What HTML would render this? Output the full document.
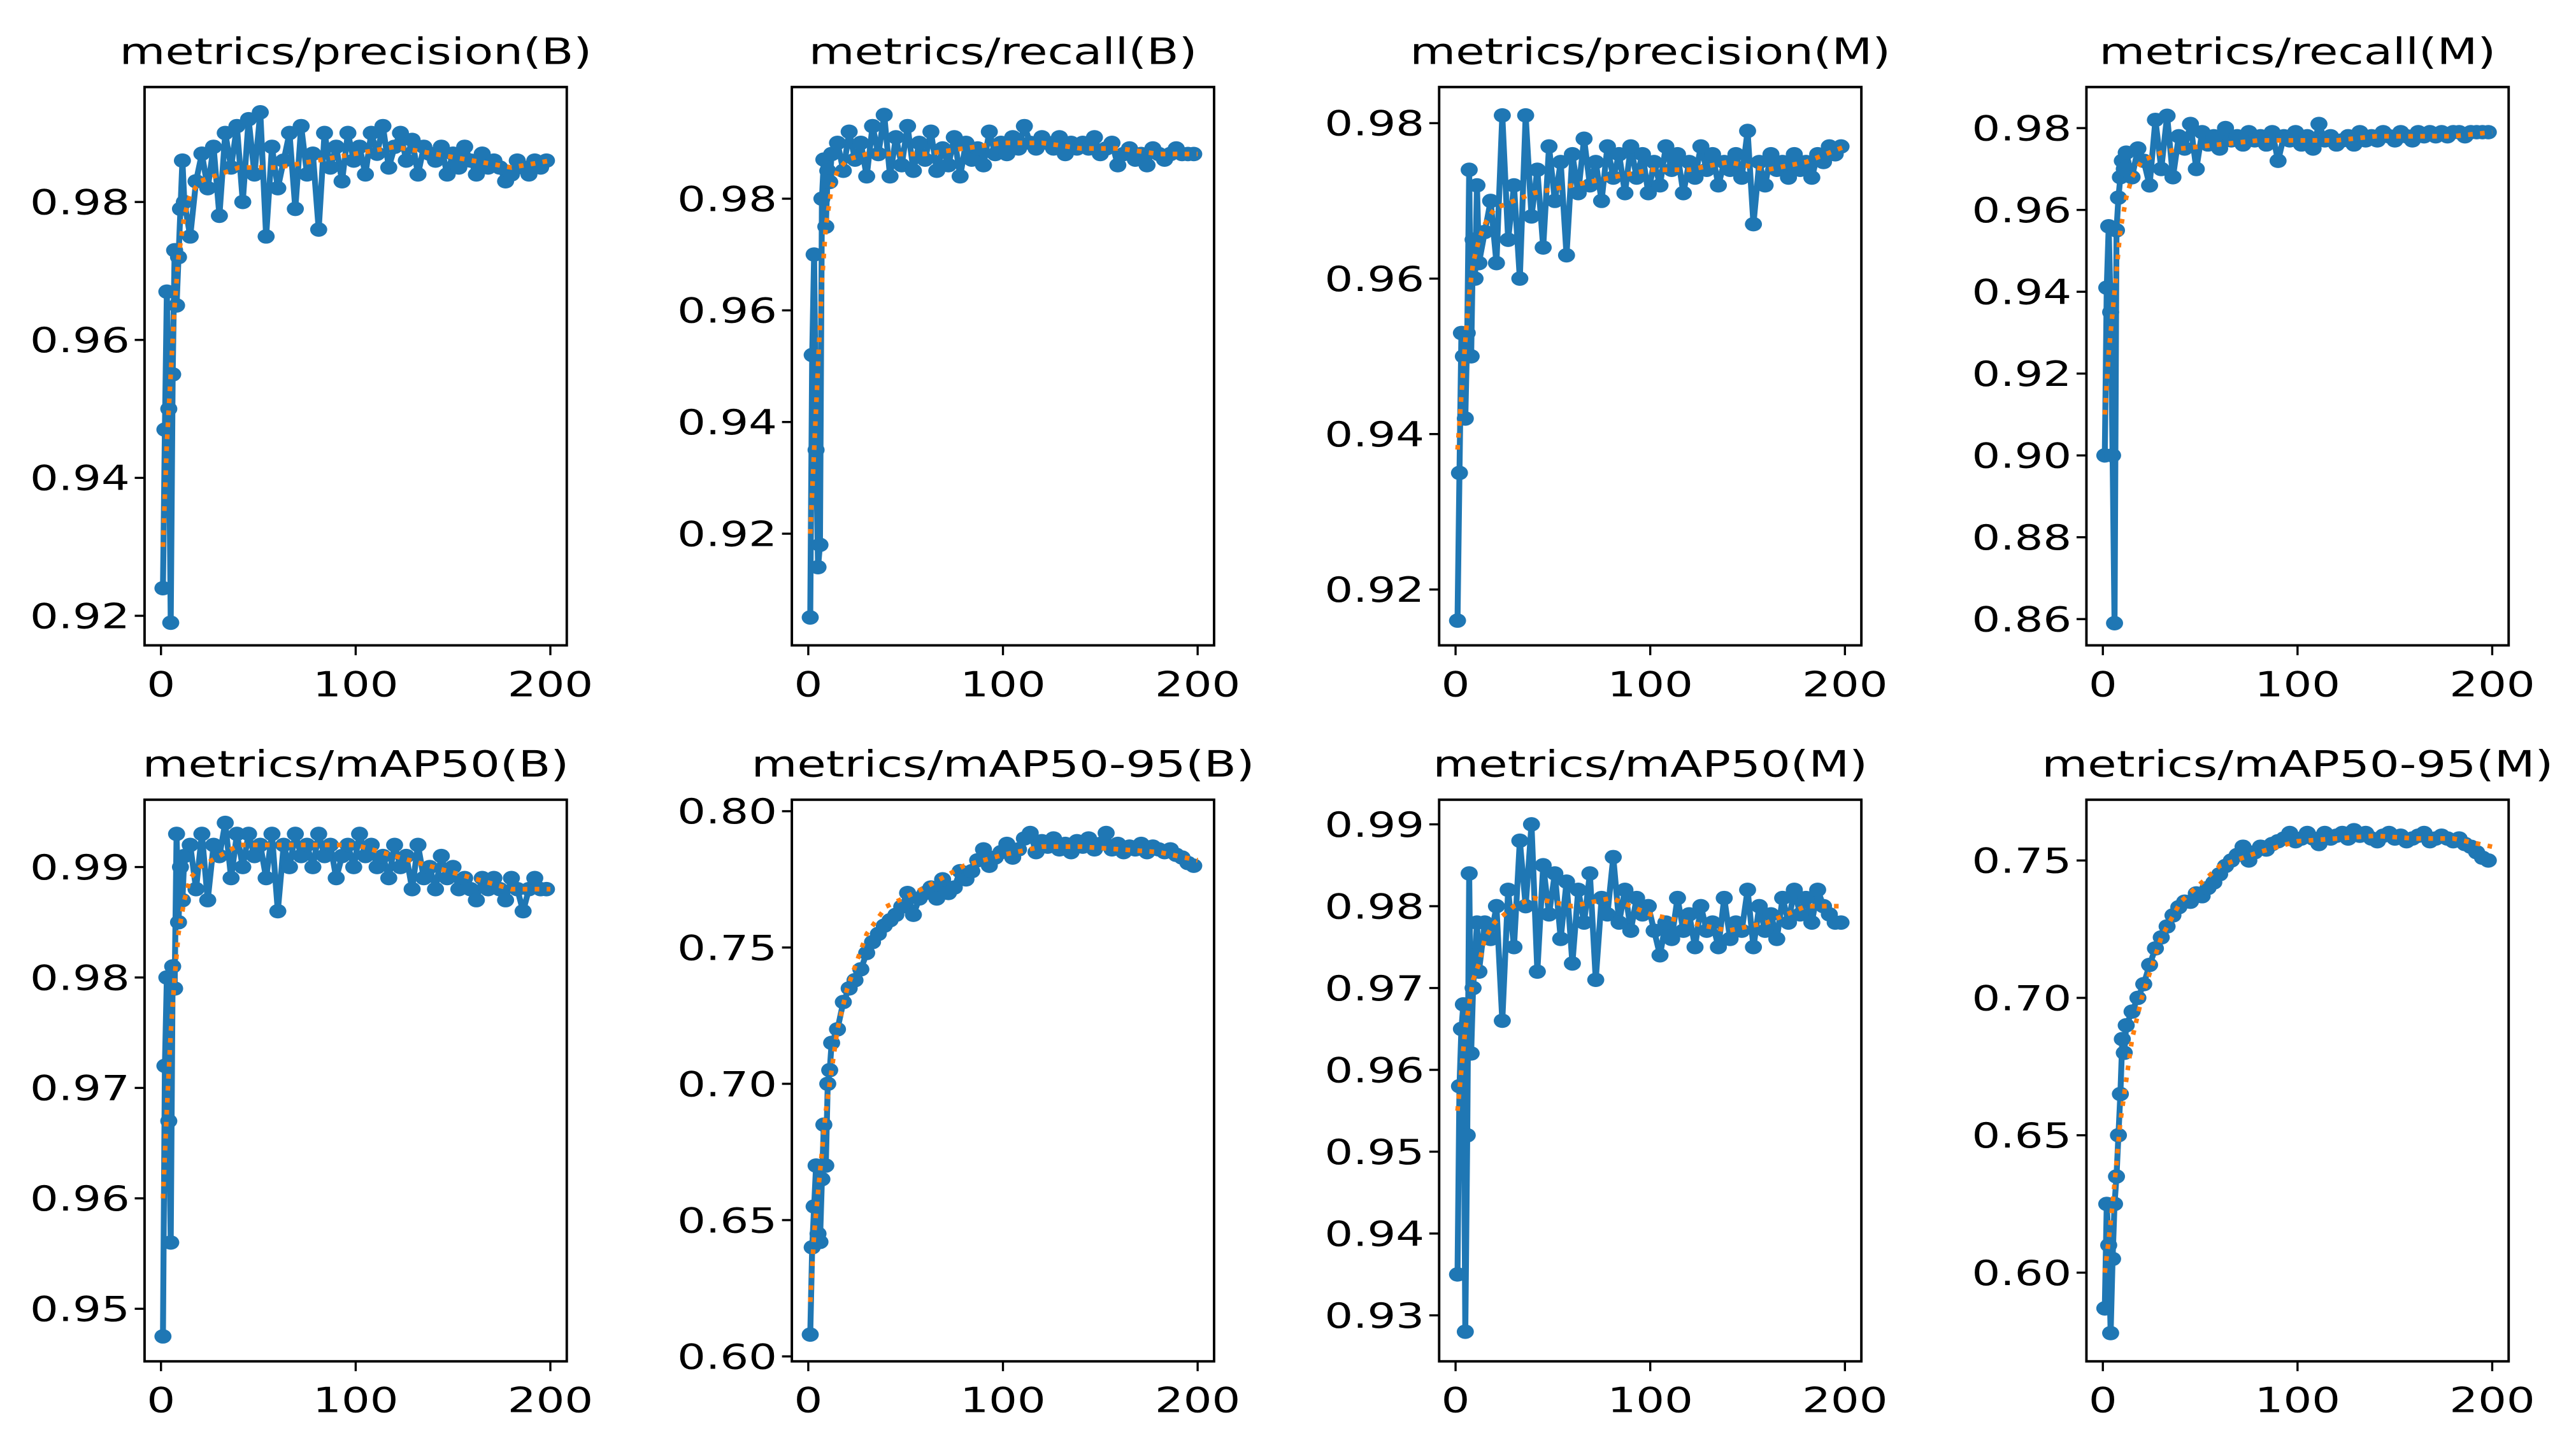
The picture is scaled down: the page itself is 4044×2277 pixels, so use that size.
<!DOCTYPE html>
<html><head><meta charset="utf-8">
<style>
html,body{margin:0;padding:0;background:#fff;}
svg{display:block;}
text{font-family:"DejaVu Sans","Liberation Sans",sans-serif;fill:#000;}
</style></head>
<body>
<svg id="chart" width="4044" height="2277" viewBox="0 0 1568 883" preserveAspectRatio="none" xmlns="http://www.w3.org/2000/svg">
<rect width="1568" height="883" fill="#fff"/>
</svg>
<script>
const epochs=[1,2,3,4,5,6,7,8,9,10,11,12,15,18,21,24,27,30,33,36,39,42,45,48,51,54,57,60,63,66,69,72,75,78,81,84,87,90,93,96,99,102,105,108,111,114,117,120,123,126,129,132,135,138,141,144,147,150,153,156,159,162,165,168,171,174,177,180,183,186,189,192,195,198];
const smoothEpochs=[1,3,5,7,9,12,15,20,30,40,60,80,100,120,140,160,180,200];
const titles=["metrics/precision(B)","metrics/recall(B)","metrics/precision(M)","metrics/recall(M)","metrics/mAP50(B)","metrics/mAP50-95(B)","metrics/mAP50(M)","metrics/mAP50-95(M)"];
const xTicks=[0,100,200];
const yTicks0=[0.92,0.94,0.96,0.98];
const yTicks1=[0.92,0.94,0.96,0.98];
const yTicks2=[0.92,0.94,0.96,0.98];
const yTicks3=[0.86,0.88,0.90,0.92,0.94,0.96,0.98];
const yTicks4=[0.95,0.96,0.97,0.98,0.99];
const yTicks5=[0.60,0.65,0.70,0.75,0.80];
const yTicks6=[0.93,0.94,0.95,0.96,0.97,0.98,0.99];
const yTicks7=[0.60,0.65,0.70,0.75];
const vals0=[.924,.947,.967,.950,.919,.955,.973,.965,.972,.979,.986,.980,.975,.983,.987,.982,.988,.978,.990,.985,.991,.980,.992,.984,.993,.975,.988,.982,.986,.990,.979,.991,.984,.987,.976,.990,.985,.988,.983,.990,.986,.988,.984,.990,.987,.991,.985,.988,.990,.986,.989,.984,.988,.987,.986,.988,.984,.987,.985,.988,.986,.984,.987,.985,.986,.985,.983,.984,.986,.985,.984,.986,.985,.986];
const vals1=[.905,.952,.970,.935,.914,.918,.980,.987,.975,.985,.983,.988,.990,.985,.992,.987,.990,.984,.993,.988,.995,.984,.991,.986,.993,.985,.990,.987,.992,.985,.989,.986,.991,.984,.990,.987,.989,.986,.992,.988,.990,.988,.991,.989,.993,.990,.989,.991,.990,.989,.991,.988,.990,.989,.990,.989,.991,.988,.989,.990,.986,.988,.989,.987,.988,.986,.989,.988,.987,.988,.989,.988,.988,.988];
const vals2=[.916,.935,.953,.950,.942,.953,.974,.950,.965,.960,.972,.962,.966,.970,.962,.981,.965,.972,.960,.981,.968,.974,.964,.977,.970,.975,.963,.976,.971,.978,.972,.975,.970,.977,.973,.976,.971,.977,.973,.976,.971,.975,.972,.977,.974,.976,.971,.975,.973,.977,.974,.976,.972,.975,.974,.976,.973,.979,.967,.975,.972,.976,.974,.975,.973,.976,.974,.975,.973,.976,.975,.977,.976,.977];
const vals3=[.900,.941,.956,.935,.900,.859,.955,.963,.968,.972,.970,.974,.968,.975,.972,.966,.982,.970,.983,.968,.978,.975,.981,.970,.979,.976,.978,.975,.980,.977,.978,.976,.979,.977,.978,.976,.979,.972,.978,.977,.979,.976,.978,.975,.981,.977,.978,.976,.977,.978,.976,.979,.977,.978,.977,.979,.978,.977,.979,.978,.977,.979,.978,.979,.978,.979,.978,.979,.979,.978,.979,.979,.979,.979];
const vals4=[.9475,.972,.980,.967,.956,.981,.979,.993,.985,.990,.987,.991,.992,.988,.993,.987,.992,.991,.994,.989,.993,.990,.993,.991,.992,.989,.993,.986,.992,.990,.993,.991,.992,.990,.993,.991,.992,.989,.991,.992,.990,.993,.991,.992,.990,.991,.989,.992,.990,.991,.988,.992,.989,.990,.988,.991,.989,.990,.988,.989,.988,.987,.989,.988,.989,.988,.987,.989,.988,.986,.988,.989,.988,.988];
const vals5=[.608,.640,.655,.670,.645,.642,.665,.685,.670,.700,.705,.715,.720,.730,.735,.738,.742,.748,.752,.755,.758,.760,.762,.765,.770,.762,.768,.770,.772,.768,.775,.770,.772,.778,.775,.778,.782,.786,.780,.783,.785,.788,.783,.786,.790,.792,.785,.789,.787,.790,.786,.788,.785,.789,.787,.790,.786,.788,.792,.786,.788,.785,.787,.786,.788,.785,.787,.786,.785,.786,.784,.783,.781,.780];
const vals6=[.935,.958,.965,.968,.928,.952,.984,.962,.970,.974,.978,.972,.978,.976,.980,.966,.982,.975,.988,.980,.990,.972,.985,.979,.984,.976,.983,.973,.982,.978,.984,.971,.981,.979,.986,.978,.982,.977,.981,.979,.980,.977,.974,.978,.976,.981,.977,.979,.975,.980,.977,.978,.975,.981,.976,.978,.977,.982,.975,.980,.977,.979,.976,.981,.978,.982,.979,.981,.978,.982,.980,.979,.978,.978];
const vals7=[.587,.625,.610,.578,.605,.625,.635,.650,.665,.685,.680,.690,.695,.700,.705,.712,.718,.722,.726,.730,.733,.735,.735,.738,.737,.740,.742,.745,.748,.750,.752,.755,.750,.753,.755,.754,.756,.757,.758,.760,.757,.758,.760,.758,.756,.760,.758,.759,.760,.758,.761,.759,.760,.758,.757,.759,.760,.758,.759,.757,.758,.759,.760,.757,.758,.759,.758,.757,.758,.756,.755,.753,.751,.750];
const smooth0=[.93,.945,.955,.965,.972,.978,.981,.983,.984,.985,.985,.986,.987,.988,.987,.986,.985,.986];
const smooth1=[.92,.935,.95,.965,.975,.982,.985,.987,.988,.988,.988,.989,.990,.990,.989,.989,.988,.988];
const smooth2=[.938,.945,.952,.958,.962,.965,.967,.969,.970,.971,.972,.973,.974,.974,.975,.974,.975,.977];
const smooth3=[.91,.925,.935,.945,.955,.963,.968,.972,.974,.975,.976,.977,.977,.977,.978,.978,.978,.979];
const smooth4=[.96,.968,.975,.98,.984,.987,.989,.990,.991,.992,.992,.992,.992,.991,.990,.989,.988,.988];
const smooth5=[.62,.645,.66,.675,.69,.705,.72,.735,.755,.765,.772,.78,.784,.787,.787,.786,.785,.782];
const smooth6=[.955,.96,.965,.968,.971,.973,.976,.978,.980,.981,.980,.981,.979,.978,.977,.978,.980,.980];
const smooth7=[.60,.612,.625,.64,.655,.67,.685,.70,.722,.735,.748,.753,.757,.758,.759,.758,.758,.755];

const allVals=[vals0,vals1,vals2,vals3,vals4,vals5,vals6,vals7];
const allSmooth=[smooth0,smooth1,smooth2,smooth3,smooth4,smooth5,smooth6,smooth7];
const allTicks=[yTicks0,yTicks1,yTicks2,yTicks3,yTicks4,yTicks5,yTicks6,yTicks7];
const yCal=[[0.98,123,0.92,375],[0.98,121,0.92,325],[0.98,75,0.92,359],[0.98,78,0.86,377],
 [0.99,528,0.95,797],[0.80,494,0.60,826],[0.99,502,0.93,801],[0.75,524,0.60,775]];
const boxL=[88,482,876,1270];
const W=257, rowTop=[53,487], H=[340,342];
const SX=1.3;
const NS="http://www.w3.org/2000/svg";
const svg=document.getElementById('chart');
function mk(tag,attrs,parent){const e=document.createElementNS(NS,tag);for(const k in attrs)e.setAttribute(k,attrs[k]);(parent||svg).appendChild(e);return e;}
function txt(g,x,y,size,anchor,content){
  const e=mk('text',{x:0,y:0,'font-size':size,'text-anchor':anchor,transform:'translate('+x+','+y+') scale('+SX+',1)'},g);
  e.textContent=content;return e;
}

for(let p=0;p<8;p++){
  const col=p%4,row=Math.floor(p/4);
  const L=boxL[col],T=rowTop[row],h=H[row];
  const g=mk('g',{});
  
  
  const xs=v=>L+10+(v/200)*237;
  const c=yCal[p];
  const ys=v=>c[1]+(v-c[0])*(c[3]-c[1])/(c[2]-c[0]);
  const t=txt(g,L+W/2,T-14,22,'middle',titles[p]);
  
  
  xTicks.forEach(v=>{
    mk('line',{x1:xs(v),x2:xs(v),y1:T+h,y2:T+h+6,stroke:'#000','stroke-width':1.3},g);
    const tx=txt(g,xs(v),T+h+31,21,'middle',String(v));
    
    
  });
  allTicks[p].forEach(v=>{
    mk('line',{x1:L-6,x2:L,y1:ys(v),y2:ys(v),stroke:'#000','stroke-width':1.3},g);
    const ty=txt(g,L-9,ys(v)+7.5,21,'end',v.toFixed(2));
    
    
  });
  const v=allVals[p], n=Math.min(v.length,epochs.length);
  let d='';
  for(let i=0;i<n;i++)d+=(i?'L':'M')+xs(epochs[i]).toFixed(2)+','+ys(v[i]).toFixed(2);
  const ln=mk('path',{d:d,fill:'none',stroke:'#1f77b4','stroke-width':3.6,'stroke-linejoin':'round'},g);
  
  
  for(let i=0;i<n;i++){
    const m=mk('ellipse',{cx:xs(epochs[i]),cy:ys(v[i]),rx:5.2,ry:4.4,fill:'#1f77b4'},g);
    
    
  }
  const s=allSmooth[p], ns=Math.min(s.length,smoothEpochs.length);
  let ds='';
  for(let i=0;i<ns;i++)ds+=(i?'L':'M')+xs(smoothEpochs[i]).toFixed(2)+','+ys(s[i]).toFixed(2);
  const sl=mk('path',{d:ds,fill:'none',stroke:'#ff7f0e','stroke-width':2.8,'stroke-dasharray':'2.8,4.5'},g);
  
  
  const b=mk('rect',{x:L,y:T,width:W,height:h,fill:'none',stroke:'#000','stroke-width':1.5},g);
  
  
}
</script>
</body></html>
